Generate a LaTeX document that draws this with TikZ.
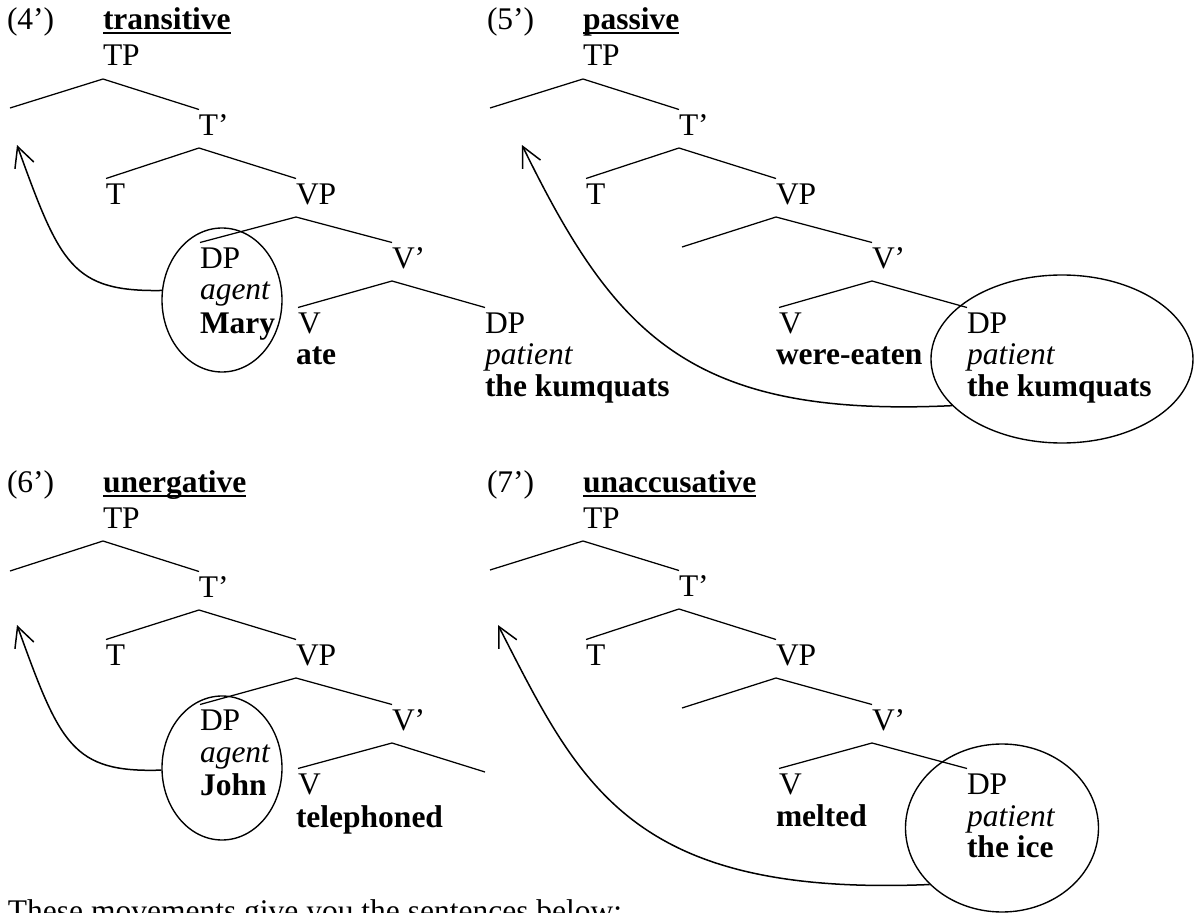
\documentclass[tikz,border=0pt]{standalone}
\usepackage{fontspec}
\setmainfont{Liberation Serif}
\usetikzlibrary{arrows.meta, shapes.geometric}

\newcommand{\treesize}{\fontsize{12.6}{13}\selectfont}
\tikzset{
  cat/.style={anchor=base west, inner sep=0pt, outer xsep=0pt, outer ysep=1.2pt,
    text height=9pt, text depth=4pt, font=\treesize},
  word/.style={cat, font=\treesize\bfseries},
  role/.style={cat, font=\treesize\itshape},
  branch/.style={line width=0.5pt},
  ring/.style={ellipse, draw, inner sep=0pt, line width=0.55pt},
  move/.style={-{Straight Barb[length=8pt,width=8pt]}, line width=0.6pt},
  uline/.style={line width=0.8pt},
}

\begin{document}
\begin{tikzpicture}[x=0.4pt, y=-0.4pt]
  \useasboundingbox (0,0) rectangle (1196,913);

  % (4') transitive
  \node[cat] (ex4) at (7,30) {(4')};
  \node[word] (ti4) at (103,30) {transitive};
  \draw[uline] ([yshift=-1.2pt]ti4.base west) -- ([yshift=-1.2pt]ti4.base east);
  \node[cat] (tp4) at (103,66) {TP};
  \coordinate (spec4) at (10,108);
  \node[cat] (tb4) at (199,135) {T'};
  \node[cat] (t4) at (106,204) {T};
  \node[cat] (vp4) at (296,204) {VP};
  \node[cat] (dp4) at (200,268) {DP};
  \node[role] (ag4) at (200,300) {agent};
  \node[word] (mary) at (200,333) {Mary};
  \node[cat] (vb4) at (392,268) {V'};
  \node[cat] (v4) at (298,333) {V};
  \node[word] (ate) at (296,364) {ate};
  \node[cat] (obj4) at (485,333) {DP};
  \node[role] (pat4) at (485,364) {patient};
  \node[word] (kum4) at (485,396) {the kumquats};
  \draw[branch] (spec4) -- (tp4.south west) -- (tb4.north west);
  \draw[branch] (t4.north west) -- (tb4.south west) -- (vp4.north west);
  \draw[branch] (dp4.north west) -- (vp4.south west) -- (vb4.north west);
  \draw[branch] (v4.north west) -- (vb4.south west) -- (obj4.north west);
  \node[ring, minimum width=48pt, minimum height=57.6pt] (e4) at (222,300) {};
  \coordinate (tip4) at (17,145);
  \draw[move] (e4.171) .. controls (72,292) and (60,264) .. (tip4);

  % (5') passive
  \node[cat] (ex5) at (487,30) {(5')};
  \node[word] (ti5) at (583,30) {passive};
  \draw[uline] ([yshift=-1.2pt]ti5.base west) -- ([yshift=-1.2pt]ti5.base east);
  \node[cat] (tp5) at (583,66) {TP};
  \coordinate (spec5) at (490,108);
  \node[cat] (tb5) at (679,135) {T'};
  \node[cat] (t5) at (586,204) {T};
  \node[cat] (vp5) at (776,204) {VP};
  \coordinate (vspec5) at (682,247);
  \node[cat] (vb5) at (872,268) {V'};
  \node[cat] (v5) at (779,333) {V};
  \node[word] (eaten) at (776,364) {were-eaten};
  \node[cat] (obj5) at (967,333) {DP};
  \node[role] (pat5) at (967,364) {patient};
  \node[word] (kum5) at (967,396) {the kumquats};
  \draw[branch] (spec5) -- (tp5.south west) -- (tb5.north west);
  \draw[branch] (t5.north west) -- (tb5.south west) -- (vp5.north west);
  \draw[branch] (vspec5) -- (vp5.south west) -- (vb5.north west);
  \draw[branch] (v5.north west) -- (vb5.south west) -- (obj5.north west);
  \node[ring, minimum width=104.8pt, minimum height=67.2pt] (e5) at (1062,359) {};
  \coordinate (tip5) at (522,145);
  \draw[move] (e5.203) .. controls (690,418) and (615,335) .. (tip5);

  % (6') unergative
  \node[cat] (ex6) at (7,492) {(6')};
  \node[word] (ti6) at (103,492) {unergative};
  \draw[uline] ([yshift=-1.6pt]ti6.base west) -- ([yshift=-1.6pt]ti6.base east);
  \node[cat] (tp6) at (103,528) {TP};
  \coordinate (spec6) at (10,571);
  \node[cat] (tb6) at (199,597) {T'};
  \node[cat] (t6) at (106,665) {T};
  \node[cat] (vp6) at (296,665) {VP};
  \node[cat] (dp6) at (200,730) {DP};
  \node[role] (ag6) at (200,762) {agent};
  \node[word] (john) at (200,795) {John};
  \node[cat] (vb6) at (392,730) {V'};
  \node[cat] (v6) at (298,794) {V};
  \node[word] (phoned) at (296,827) {telephoned};
  \coordinate (obj6) at (485,772);
  \draw[branch] (spec6) -- (tp6.south west) -- (tb6.north west);
  \draw[branch] (t6.north west) -- (tb6.south west) -- (vp6.north west);
  \draw[branch] (dp6.north west) -- (vp6.south west) -- (vb6.north west);
  \draw[branch] (v6.north west) -- (vb6.south west) -- (obj6);
  \node[ring, minimum width=48pt, minimum height=57.6pt] (e6) at (222,768) {};
  \coordinate (tip6) at (17,625);
  \draw[move] (e6.182) .. controls (72,773) and (60,744) .. (tip6);

  % (7') unaccusative
  \node[cat] (ex7) at (487,492) {(7')};
  \node[word] (ti7) at (583,492) {unaccusative};
  \draw[uline] ([yshift=-1.6pt]ti7.base west) -- ([yshift=-1.6pt]ti7.base east);
  \node[cat] (tp7) at (583,528) {TP};
  \coordinate (spec7) at (490,570);
  \node[cat] (tb7) at (679,596) {T'};
  \node[cat] (t7) at (586,665) {T};
  \node[cat] (vp7) at (776,665) {VP};
  \coordinate (vspec7) at (682,708);
  \node[cat] (vb7) at (872,730) {V'};
  \node[cat] (v7) at (779,794) {V};
  \node[word] (melted) at (776,826) {melted};
  \node[cat] (obj7) at (967,794) {DP};
  \node[role] (pat7) at (967,826) {patient};
  \node[word] (ice) at (967,857) {the ice};
  \draw[branch] (spec7) -- (tp7.south west) -- (tb7.north west);
  \draw[branch] (t7.north west) -- (tb7.south west) -- (vp7.north west);
  \draw[branch] (vspec7) -- (vp7.south west) -- (vb7.north west);
  \draw[branch] (v7.north west) -- (vb7.south west) -- (obj7.north west);
  \node[ring, minimum width=77.2pt, minimum height=67.2pt] (e7) at (1002,828) {};
  \coordinate (tip7) at (498,625);
  \draw[move] (e7.218) .. controls (630,897) and (580,785) .. (tip7);

  \node[cat] (note) at (8,921) {These movements give you the sentences below:};
\end{tikzpicture}
\end{document}
